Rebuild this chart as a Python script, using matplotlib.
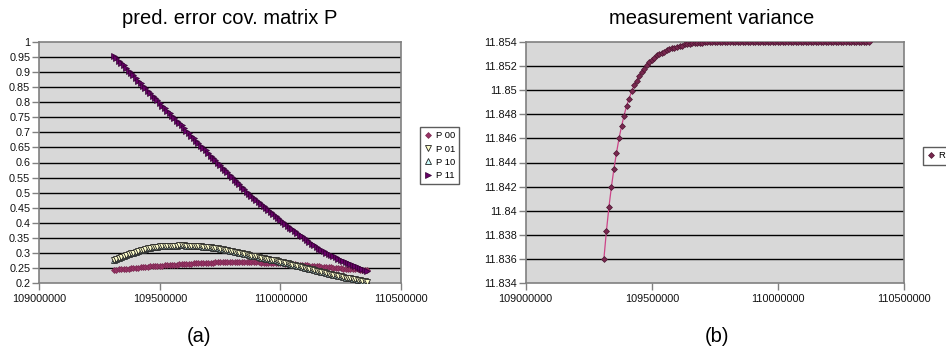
import numpy as np
import matplotlib
matplotlib.use("Agg")
import matplotlib.pyplot as plt

plt.rcParams['font.family'] = ['Liberation Sans', 'DejaVu Sans']

# ---------------- data ----------------
x_vals = np.arange(109310000, 110370000, 10000)  # sample positions (106 points)

p00 = [0.243, 0.244, 0.245, 0.245, 0.246, 0.247, 0.248, 0.249, 0.250, 0.250,
       0.251, 0.252, 0.253, 0.254, 0.254, 0.255, 0.256, 0.256, 0.257, 0.257,
       0.258, 0.259, 0.259, 0.260, 0.260, 0.261, 0.261, 0.262, 0.262, 0.263,
       0.263, 0.264, 0.264, 0.265, 0.265, 0.266, 0.266, 0.267, 0.267, 0.268,
       0.268, 0.268, 0.269, 0.269, 0.269, 0.270, 0.270, 0.270, 0.270, 0.270,
       0.270, 0.270, 0.270, 0.270, 0.270, 0.270, 0.270, 0.269, 0.269, 0.269,
       0.269, 0.268, 0.268, 0.268, 0.267, 0.267, 0.266, 0.266, 0.266, 0.265,
       0.265, 0.264, 0.264, 0.263, 0.263, 0.262, 0.261, 0.261, 0.260, 0.259,
       0.259, 0.258, 0.257, 0.257, 0.256, 0.255, 0.254, 0.254, 0.253, 0.252,
       0.252, 0.251, 0.250, 0.250, 0.249, 0.248, 0.248, 0.247, 0.246, 0.246,
       0.245, 0.245, 0.244, 0.244, 0.243, 0.243]

p01 = [0.276, 0.280, 0.283, 0.286, 0.289, 0.292, 0.295, 0.298, 0.301, 0.304,
       0.306, 0.309, 0.311, 0.313, 0.315, 0.317, 0.318, 0.320, 0.321, 0.322,
       0.322, 0.323, 0.323, 0.324, 0.324, 0.324, 0.324, 0.325, 0.325, 0.325,
       0.324, 0.324, 0.324, 0.323, 0.323, 0.322, 0.322, 0.321, 0.320, 0.320,
       0.319, 0.317, 0.316, 0.315, 0.314, 0.312, 0.311, 0.309, 0.307, 0.305,
       0.304, 0.302, 0.300, 0.298, 0.296, 0.295, 0.293, 0.291, 0.289, 0.288,
       0.286, 0.284, 0.283, 0.281, 0.280, 0.278, 0.276, 0.275, 0.273, 0.271,
       0.269, 0.267, 0.265, 0.263, 0.261, 0.259, 0.257, 0.255, 0.253, 0.251,
       0.249, 0.247, 0.245, 0.243, 0.241, 0.239, 0.237, 0.235, 0.233, 0.231,
       0.229, 0.228, 0.226, 0.224, 0.222, 0.220, 0.218, 0.217, 0.215, 0.213,
       0.212, 0.210, 0.209, 0.207, 0.206, 0.204]

p10 = list(p01)  # P10 coincides with P01

p11 = [0.955, 0.947, 0.938, 0.930, 0.922, 0.914, 0.905, 0.897, 0.889, 0.880,
       0.872, 0.864, 0.855, 0.847, 0.839, 0.830, 0.822, 0.814, 0.806, 0.797,
       0.789, 0.781, 0.772, 0.764, 0.756, 0.747, 0.739, 0.731, 0.723, 0.714,
       0.706, 0.698, 0.689, 0.681, 0.673, 0.664, 0.656, 0.648, 0.640, 0.631,
       0.623, 0.615, 0.607, 0.599, 0.591, 0.583, 0.575, 0.567, 0.559, 0.551,
       0.543, 0.535, 0.527, 0.519, 0.511, 0.503, 0.496, 0.489, 0.483, 0.476,
       0.469, 0.462, 0.455, 0.449, 0.442, 0.435, 0.428, 0.421, 0.415, 0.408,
       0.401, 0.395, 0.389, 0.384, 0.378, 0.372, 0.366, 0.360, 0.355, 0.349,
       0.343, 0.337, 0.331, 0.326, 0.320, 0.314, 0.310, 0.305, 0.301, 0.297,
       0.293, 0.289, 0.285, 0.280, 0.276, 0.272, 0.269, 0.266, 0.262, 0.259,
       0.256, 0.253, 0.250, 0.246, 0.243, 0.240]

r_vals = [11.8360, 11.8383, 11.8403, 11.8420, 11.8435, 11.8448, 11.8460, 11.8470,
          11.8479, 11.8487, 11.8493, 11.8499, 11.8504, 11.8508, 11.8512, 11.8515,
          11.8518, 11.8521, 11.8523, 11.8525, 11.8527, 11.8529, 11.8530, 11.8531,
          11.8532, 11.8533, 11.8534, 11.8535, 11.8535, 11.8536, 11.8537, 11.8537,
          11.8538, 11.8538, 11.8538, 11.8539, 11.8539, 11.8539, 11.8539, 11.8539,
          11.8540, 11.8540, 11.8540, 11.8540, 11.8540, 11.8540, 11.8540, 11.8540,
          11.8540, 11.8540, 11.8540, 11.8540, 11.8540, 11.8540, 11.8540, 11.8540,
          11.8540, 11.8540, 11.8540, 11.8540, 11.8540, 11.8540, 11.8540, 11.8540,
          11.8540, 11.8540, 11.8540, 11.8540, 11.8540, 11.8540, 11.8540, 11.8540,
          11.8540, 11.8540, 11.8540, 11.8540, 11.8540, 11.8540, 11.8540, 11.8540,
          11.8540, 11.8540, 11.8540, 11.8540, 11.8540, 11.8540, 11.8540, 11.8540,
          11.8540, 11.8540, 11.8540, 11.8540, 11.8540, 11.8540, 11.8540, 11.8540,
          11.8540, 11.8540, 11.8540, 11.8540, 11.8540, 11.8540, 11.8540, 11.8540,
          11.8540, 11.8540]

x_ticks = [109000000, 109500000, 110000000, 110500000]
x_tick_labels = ["109000000", "109500000", "110000000", "110500000"]

p_ticks = [0.2, 0.25, 0.3, 0.35, 0.4, 0.45, 0.5, 0.55, 0.6, 0.65, 0.7, 0.75,
           0.8, 0.85, 0.9, 0.95, 1.0]
p_tick_labels = ["0.2", "0.25", "0.3", "0.35", "0.4", "0.45", "0.5", "0.55", "0.6",
                 "0.65", "0.7", "0.75", "0.8", "0.85", "0.9", "0.95", "1"]

r_ticks = [11.834, 11.836, 11.838, 11.840, 11.842, 11.844, 11.846, 11.848,
           11.850, 11.852, 11.854]
r_tick_labels = ["11.834", "11.836", "11.838", "11.84", "11.842", "11.844",
                 "11.846", "11.848", "11.85", "11.852", "11.854"]

titles = ["pred. error cov. matrix P", "measurement variance"]
captions = ["(a)", "(b)"]
p_labels = ["P 00", "P 01", "P 10", "P 11"]
r_label = "R"

# ---------------- figure ----------------
W, H = 946, 354
fig = plt.figure(figsize=(W / 100, H / 100), dpi=100)
fig.patch.set_facecolor("white")

BG = "#d8d8d8"
BORDER = "#808080"
TICKFS = 7.8


def px_axes(x0, y0, x1, y1):
    return fig.add_axes([x0 / W, 1 - y1 / H, (x1 - x0) / W, (y1 - y0) / H])


def style(ax, yticks, ylabels):
    ax.set_facecolor(BG)
    for s in ax.spines.values():
        s.set_color(BORDER)
        s.set_linewidth(1.2)
    ax.set_xlim(x_ticks[0], x_ticks[-1])
    ax.set_ylim(yticks[0], yticks[-1])
    ax.set_xticks(x_ticks)
    ax.set_xticklabels(x_tick_labels)
    ax.set_yticks(yticks)
    ax.set_yticklabels(ylabels)
    ax.tick_params(axis="both", direction="out", length=5, width=1,
                   color=BORDER, labelsize=TICKFS, pad=1.5, labelcolor="#111111")
    ax.tick_params(axis="x", pad=3)
    for yv in yticks[1:-1]:
        ax.axhline(yv, color="black", lw=1.0, zorder=1)
    ax.set_axisbelow(True)


# left panel
axL = px_axes(39.3, 42, 401, 283)
style(axL, p_ticks, p_tick_labels)
hP00, = axL.plot(x_vals, p00, ls="none", marker="D", ms=3.0, mfc="#993366",
                 mec="#7a2850", mew=0.5, zorder=3)
hP10, = axL.plot(x_vals, p10, ls="none", marker="^", ms=4.2, mfc="#ccffff",
                 mec="#222222", mew=0.6, zorder=3)
hP01, = axL.plot(x_vals, p01, ls="none", marker="v", ms=4.2, mfc="#ffffcc",
                 mec="#222222", mew=0.6, zorder=4)
hP11, = axL.plot(x_vals, p11, ls="none", marker=">", ms=4.3, mfc="#660066",
                 mec="#330033", mew=0.5, zorder=5)

legL = fig.legend([hP00, hP01, hP10, hP11], p_labels, loc="upper left",
                  bbox_to_anchor=(420 / W, 1 - 127 / H), fontsize=6.8,
                  frameon=True, fancybox=False, handlelength=0.8,
                  handletextpad=0.4, borderpad=0.45, labelspacing=0.45,
                  borderaxespad=0)
legL.get_frame().set_edgecolor("#333333")
legL.get_frame().set_linewidth(1.0)

# right panel
axR = px_axes(525.7, 42, 904, 283)
style(axR, r_ticks, r_tick_labels)
axR.plot(x_vals, r_vals, color="#cc4488", lw=0.9, zorder=3)
hR, = axR.plot(x_vals, r_vals, ls="none", marker="D", ms=3.0, mfc="#7a2850",
               mec="#4a1530", mew=0.5, zorder=4)

legR = fig.legend([hR], [r_label], loc="upper left",
                  bbox_to_anchor=(923 / W, 1 - 147 / H), fontsize=6.8,
                  frameon=True, fancybox=False, handlelength=0.8,
                  handletextpad=0.4, borderpad=0.45, borderaxespad=0)
legR.get_frame().set_edgecolor("#333333")
legR.get_frame().set_linewidth(1.0)

# titles & captions
TFS = 14.5
fig.text(230 / W, 1 - 18 / H, titles[0], ha="center", va="center", fontsize=TFS)
fig.text(712 / W, 1 - 18 / H, titles[1], ha="center", va="center", fontsize=TFS)
fig.text(199 / W, 1 - 337 / H, captions[0], ha="center", va="center", fontsize=TFS)
fig.text(717 / W, 1 - 337 / H, captions[1], ha="center", va="center", fontsize=TFS)

fig.savefig("out.png", dpi=100, facecolor="white")
